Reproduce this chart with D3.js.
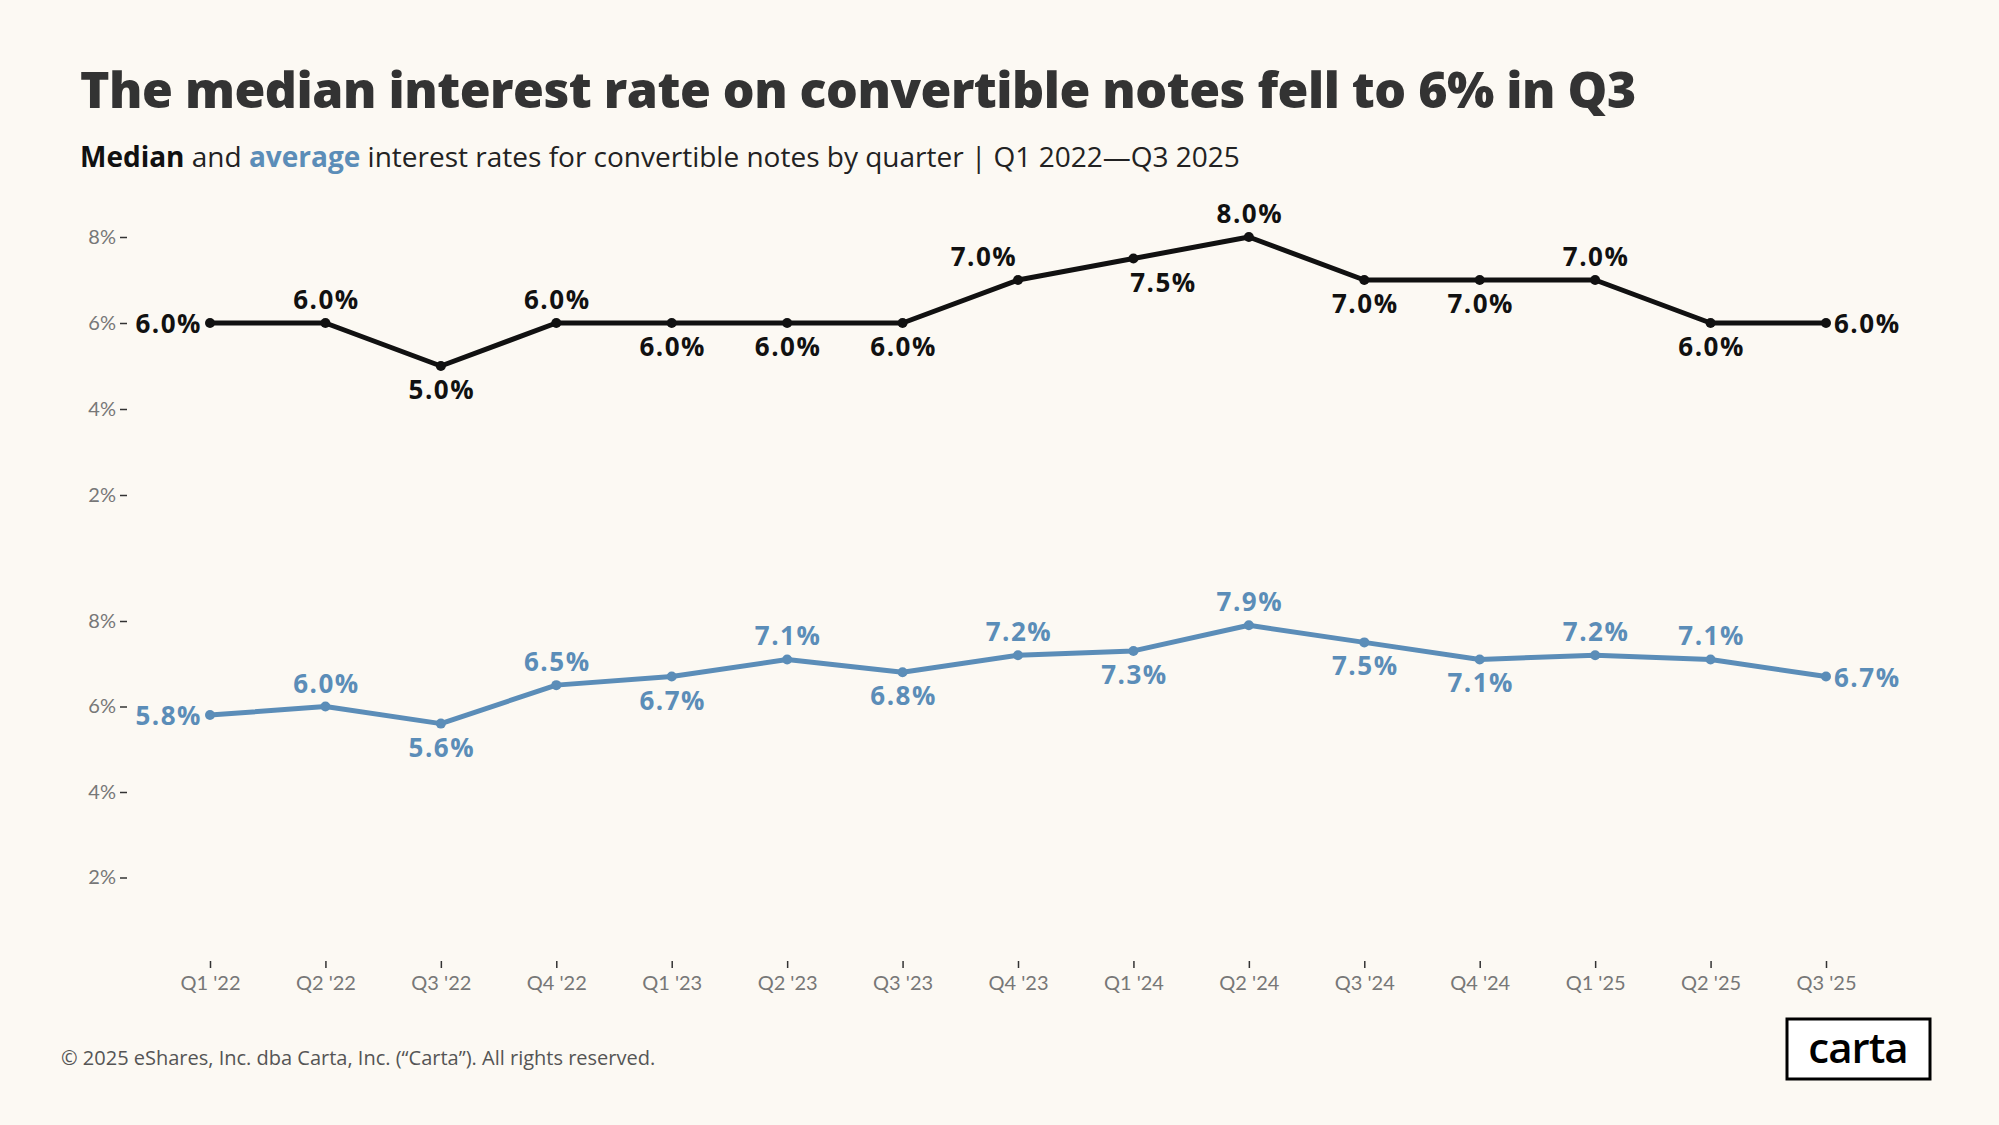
<!DOCTYPE html>
<html>
<head>
<meta charset="utf-8">
<script src="https://cdn.jsdelivr.net/npm/d3@7"></script>
<style>
  html, body { margin: 0; padding: 0; background: #fcf9f3; }
  svg { display: block; }
</style>
</head>
<body>
<svg id="canvas" width="1999" height="1125"></svg>
<script>
// quarters on the x axis
let quarters = ["Q1 '22","Q2 '22","Q3 '22","Q4 '22","Q1 '23","Q2 '23","Q3 '23","Q4 '23",
                "Q1 '24","Q2 '24","Q3 '24","Q4 '24","Q1 '25","Q2 '25","Q3 '25"];

// median and average rates, in %
let medianRates = [6.0, 6.0, 5.0, 6.0, 6.0, 6.0, 6.0, 7.0, 7.5, 8.0, 7.0, 7.0, 7.0, 6.0, 6.0];
let averageRates = [5.8, 6.0, 5.6, 6.5, 6.7, 7.1, 6.8, 7.2, 7.3, 7.9, 7.5, 7.1, 7.2, 7.1, 6.7];

// where each label sits relative to its point
let medianPos = ['left','above','below','above','below','below','below','aboveLeft',
                 'belowRight','above','below','below','above','below','right'];
let averagePos = ['left','above','below','above','below','above','below','above',
                  'below','above','below','below','above','above','right'];

let yTicks = [2, 4, 6, 8];

const blue = '#5b8db8';
const ink = '#111111';

let canvas = d3.select('#canvas');

// title + subtitle
canvas.append('text')
    .attr('x', 80).attr('y', 108)
    .style('font', '800 50px "Open Sans"')
    .style('letter-spacing', '-0.5px')
    .attr('fill', '#333333')
    .text('The median interest rate on convertible notes fell to 6% in Q3');

let sub = canvas.append('text')
    .attr('x', 80).attr('y', 167)
    .style('font', '400 28px "Open Sans"')
    .attr('fill', '#222222');
sub.append('tspan').style('font-weight', 700).attr('fill', ink).text('Median');
sub.append('tspan').text(' and ');
sub.append('tspan').style('font-weight', 700).attr('fill', blue).text('average');
sub.append('tspan').text(' interest rates for convertible notes by quarter |  Q1 2022\u2014Q3 2025');

// shared x scale
let x = d3.scalePoint()
    .domain(quarters)
    .range([210, 1826]);

let yTop = d3.scaleLinear().domain([0, 8]).range([581, 237]);
let yBottom = d3.scaleLinear().domain([0, 8]).range([963, 621]);

let drawPanel = (values, positions, y, color) => {
    // y axis, no domain line
    let ax = canvas.append('g')
        .attr('transform', 'translate(127,0)')
        .call(d3.axisLeft(y).tickValues(yTicks).tickSize(7).tickPadding(4).tickFormat(d => d + '%'));
    ax.select('.domain').remove();
    ax.selectAll('line').attr('stroke', '#333').attr('stroke-width', 1.5);
    ax.selectAll('text').style('font', '400 20px Lato').attr('fill', '#777');

    let line = d3.line()
        .x((d, i) => x(quarters[i]))
        .y(d => y(d));

    canvas.append('path')
        .datum(values)
        .attr('d', line)
        .attr('fill', 'none')
        .attr('stroke', color)
        .attr('stroke-width', 5)
        .attr('stroke-linejoin', 'round');

    canvas.append('g').selectAll('circle')
        .data(values)
        .enter()
        .append('circle')
        .attr('cx', (d, i) => x(quarters[i]))
        .attr('cy', d => y(d))
        .attr('r', 5)
        .attr('fill', color);

    canvas.append('g').selectAll('text')
        .data(values)
        .enter()
        .append('text')
        .style('font', '700 26px "Open Sans"')
        .style('letter-spacing', '1.5px')
        .attr('fill', color)
        .attr('dominant-baseline', 'central')
        .attr('text-anchor', (d, i) => {
            let p = positions[i];
            if (p === 'left') return 'end';
            if (p === 'right') return 'start';
            return 'middle';
        })
        .attr('x', (d, i) => {
            let p = positions[i];
            let cx = x(quarters[i]);
            if (p === 'left') return cx - 8;
            if (p === 'right') return cx + 8;
            if (p === 'aboveLeft') return cx - 34;
            if (p === 'belowRight') return cx + 30;
            return cx + 1;
        })
        .attr('y', (d, i) => {
            let p = positions[i];
            let cy = y(d);
            if (p === 'above' || p === 'aboveLeft') return cy - 24;
            if (p === 'below' || p === 'belowRight') return cy + 23;
            return cy;
        })
        .text(d => d.toFixed(1) + '%');
};

drawPanel(medianRates, medianPos, yTop, ink);
drawPanel(averageRates, averagePos, yBottom, blue);

// x axis ticks + labels, no domain line
let xAxis = canvas.append('g')
    .attr('transform', 'translate(0,961)')
    .call(d3.axisBottom(x).tickSize(7).tickPadding(8));
xAxis.select('.domain').remove();
xAxis.selectAll('line').attr('stroke', '#333').attr('stroke-width', 1.5);
xAxis.selectAll('text').style('font', '400 20px Lato').attr('fill', '#777');

// footer
canvas.append('text')
    .attr('x', 61).attr('y', 1065)
    .style('font', '400 20px "Open Sans"')
    .attr('fill', '#555')
    .text('\u00a9 2025 eShares, Inc. dba Carta, Inc. (\u201cCarta\u201d). All rights reserved.');

// logo box
canvas.append('rect')
    .attr('x', 1787).attr('y', 1019)
    .attr('width', 143).attr('height', 60)
    .attr('fill', '#ffffff')
    .attr('stroke', '#000')
    .attr('stroke-width', 3);
canvas.append('text')
    .attr('x', 1858).attr('y', 1063)
    .attr('text-anchor', 'middle')
    .style('font', '600 42px "Open Sans"')
    .style('letter-spacing', '-1px')
    .attr('fill', '#000')
    .text('carta');
</script>
</body>
</html>
